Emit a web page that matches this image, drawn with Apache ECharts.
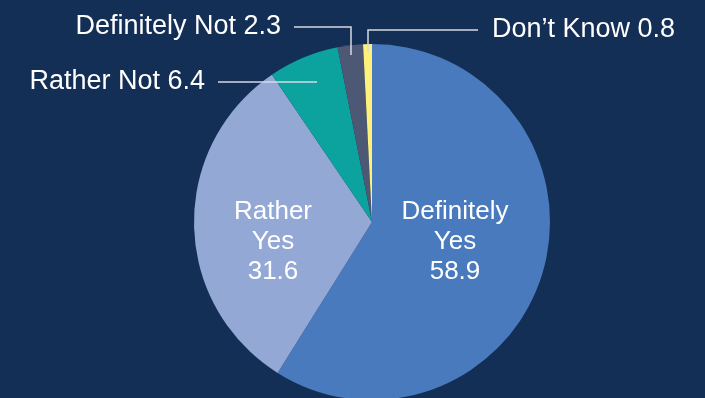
<!DOCTYPE html>
<html>
<head>
<meta charset="utf-8">
<script src="https://cdn.jsdelivr.net/npm/echarts@6/dist/echarts.min.js"></script>
<style>
html,body{margin:0;padding:0;background:#142f56;}
#main{width:705px;height:398px;}
</style>
</head>
<body>
<div id="main"></div>
<script>
const categories = ['Definitely Yes', 'Rather Yes', 'Rather Not', 'Definitely Not', 'Don\u2019t Know'];
const insideNames = ['Definitely\nYes', 'Rather\nYes', '', '', ''];
const values = [58.9, 31.6, 6.4, 2.3, 0.8];
const colors = ['#487abd', '#94a8d6', '#0ca39f', '#4d5875', '#fff27a'];

const labelPos = [
  {x: 455, y: 242, align: 'center'},
  {x: 273, y: 242, align: 'center'},
  {x: 205, y: 82, align: 'right', line: [[317, 82], [218, 82]]},
  {x: 281, y: 27, align: 'right', line: [[351, 55], [351, 27], [294, 27]]},
  {x: 492, y: 30, align: 'left', line: [[368, 52], [368, 30], [478, 30]]}
];

const fontFamily = 'Liberation Sans, Arial, sans-serif';

const sectorData = categories.map((c, i) => ({
  name: c,
  value: values[i],
  itemStyle: {color: colors[i]},
  label: {
    show: i < 2,
    formatter: insideNames[i] + '\n' + values[i].toFixed(1)
  }
}));

const outerData = categories.map((c, i) => ({
  name: c,
  value: values[i],
  label: {show: i >= 2, formatter: c + ' ' + values[i].toFixed(1)},
  labelLine: {show: i >= 2}
}));

const layoutFn = function (params) {
  const p = labelPos[params.dataIndex];
  const o = {x: p.x, y: p.y, align: p.align, verticalAlign: 'middle'};
  if (p.line) o.labelLinePoints = p.line;
  return o;
};

const chart = echarts.init(document.getElementById('main'));
chart.setOption({
  backgroundColor: '#142f56',
  animation: false,
  series: [{
    type: 'pie',
    z: 2,
    center: [372, 222],
    radius: 178,
    startAngle: 90,
    clockwise: true,
    avoidLabelOverlap: false,
    itemStyle: {borderWidth: 0},
    label: {
      position: 'inside',
      color: '#ffffff',
      fontFamily: fontFamily,
      fontSize: 26,
      lineHeight: 30
    },
    labelLine: {show: false},
    labelLayout: layoutFn,
    data: sectorData
  }, {
    type: 'pie',
    z: 5,
    silent: true,
    center: [372, 222],
    radius: 178,
    startAngle: 90,
    clockwise: true,
    avoidLabelOverlap: false,
    itemStyle: {color: 'rgba(0,0,0,0)', borderWidth: 0},
    label: {
      position: 'outside',
      color: '#ffffff',
      fontFamily: fontFamily,
      fontSize: 27
    },
    labelLine: {
      lineStyle: {color: '#d5dae3', width: 1.5}
    },
    labelLayout: layoutFn,
    data: outerData
  }]
});
</script>
</body>
</html>
